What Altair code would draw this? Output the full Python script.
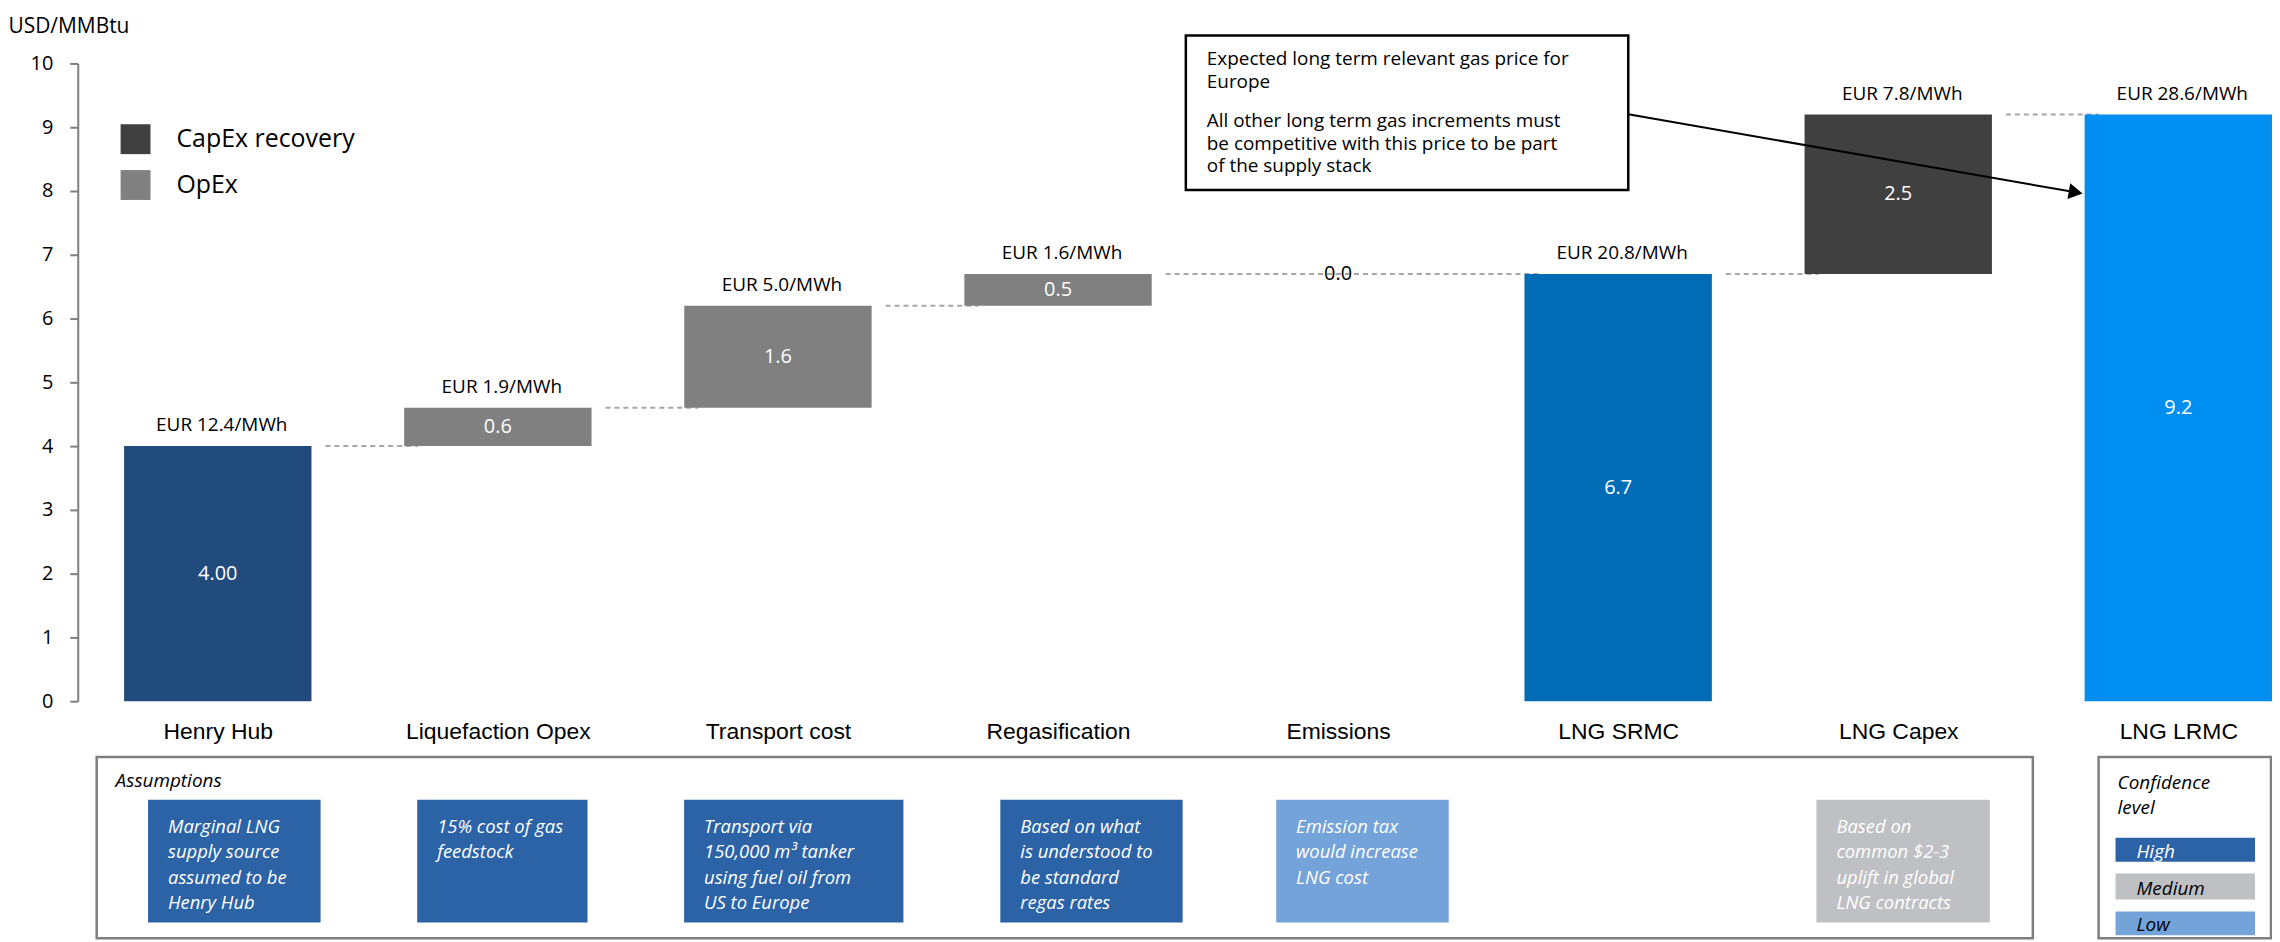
import json
import altair as alt
import pandas as pd

# ------------------------------------------------------------------ data
categories = ["Henry Hub", "Liquefaction Opex", "Transport cost", "Regasification",
              "Emissions", "LNG SRMC", "LNG Capex", "LNG LRMC"]
values = [4.00, 0.6, 1.6, 0.5, 0.0, 6.7, 2.5, 9.2]
bar_kind = ["total", "step", "step", "step", "step", "total", "step", "total"]
cost_type = ["Henry Hub", "OpEx", "OpEx", "OpEx", "OpEx", "LNG SRMC", "CapEx recovery", "LNG LRMC"]
value_labels = ["4.00", "0.6", "1.6", "0.5", "0.0", "6.7", "2.5", "9.2"]
eur_labels = ["EUR 12.4/MWh", "EUR 1.9/MWh", "EUR 5.0/MWh", "EUR 1.6/MWh", "",
              "EUR 20.8/MWh", "EUR 7.8/MWh", "EUR 28.6/MWh"]

type_domain = ["Henry Hub", "OpEx", "LNG SRMC", "CapEx recovery", "LNG LRMC"]
type_colors = ["#214b7c", "#808080", "#006cb5", "#404040", "#008ff0"]
legend_types = ["CapEx recovery", "OpEx"]

assumption_cat = ["Henry Hub", "Liquefaction Opex", "Transport cost", "Regasification",
                  "Emissions", "LNG Capex"]
assumption_text = [
    "Marginal LNG\nsupply source\nassumed to be\nHenry Hub",
    "15% cost of gas\nfeedstock",
    "Transport via\n150,000 m³ tanker\nusing fuel oil from\nUS to Europe",
    "Based on what\nis understood to\nbe standard\nregas rates",
    "Emission tax\nwould increase\nLNG cost",
    "Based on\ncommon $2-3\nuplift in global\nLNG contracts",
]
assumption_conf = ["High", "High", "High", "High", "Low", "Medium"]
conf_levels = ["High", "Medium", "Low"]
conf_colors = ["#2b63a6", "#bfc0c4", "#74a3da"]

y_title = "USD/MMBtu"
panel_title = "Assumptions"
conf_title = "Confidence\nlevel"
note_para1 = "Expected long term relevant gas price for\nEurope"
note_para2 = "All other long term gas increments must\nbe competitive with this price to be part\nof the supply stack"

# ------------------------------------------------------------------ layout (pixels / units)
SANS = "Open Sans"
ARIAL = "Liberation Sans"
PLOT_W, PLOT_H = 2202, 640
HALF = 0.3345
X_DOMAIN = [-0.5, 7.3345]
box_span = [(-0.249, 0.367), (-0.288, 0.320), (-0.335, 0.448),
            (-0.206, 0.445), (-0.221, 0.395), (-0.292, 0.327)]
PANEL_Y = (696, 878)
ASSUME_X = (19, 1962)
CONF_X = (2028, 2201)
INNER_Y = (739, 862)
conf_row_y = [(777, 801), (813, 839), (851, 875)]
conf_label_y = [791, 828, 865]
conf_label_color = ["white", "black", "black"]

# ------------------------------------------------------------------ tables
rows = []
running = 0.0
for i, (c, v, k, t, vl, el) in enumerate(zip(categories, values, bar_kind, cost_type,
                                             value_labels, eur_labels)):
    if k == "total":
        start, end = 0.0, v
        running = v
    else:
        start, end = running, running + v
        running = end
    rows.append(dict(idx=i, category=c, type=t, start=start, end=end,
                     mid=(start + end) / 2, value=v, value_label=vl, eur_label=el,
                     x0=i - HALF, x1=i + HALF))
bars_df = pd.DataFrame(rows)

nz = [r for r in rows if r["end"] != r["start"]]
conn_df = pd.DataFrame([dict(cx0=a["idx"] + HALF, cx1=b["idx"] - HALF, level=a["end"])
                        for a, b in zip(nz[:-1], nz[1:])])

cat_index = {c: i for i, c in enumerate(categories)}
assume_df = pd.DataFrame([
    dict(idx=cat_index[c], text=t, conf=cf,
         bx0=cat_index[c] + s[0], bx1=cat_index[c] + s[1])
    for c, t, cf, s in zip(assumption_cat, assumption_text, assumption_conf, box_span)
])
conf_df = pd.DataFrame(dict(level=conf_levels))

# ------------------------------------------------------------------ scales & axes
x_scale = alt.Scale(domain=X_DOMAIN, nice=False, zero=False)
y_scale = alt.Scale(domain=[0, 10], nice=False, zero=True)
label_expr = "[" + ",".join(json.dumps(c) for c in categories) + "][datum.value]"
x_axis = alt.Axis(values=list(range(len(categories))), labelExpr=label_expr, domain=False,
                  ticks=False, tickSize=0, grid=False, labelPadding=19, labelFont=ARIAL,
                  labelFontSize=23, labelColor="black", labelFlush=False,
                  labelOverlap=False, labelAngle=0, labelLimit=0, title=None)
y_axis = alt.Axis(values=list(range(11)), format="d", grid=False, domainColor="#7f7f7f",
                  domainWidth=2, tickColor="#7f7f7f", tickWidth=2, tickSize=8,
                  labelPadding=17, labelFont=SANS, labelFontSize=20, labelColor="black",
                  title=y_title, titleAngle=0, titleAlign="left", titleBaseline="middle",
                  titleX=-70, titleY=-37, titleFont=SANS, titleFontSize=21,
                  titleFontWeight="normal", titleColor="black", titleLimit=0)
conf_scale = alt.Scale(domain=conf_levels, range=conf_colors)

# ------------------------------------------------------------------ chart layers
connectors = alt.Chart(conn_df).mark_rule(
    strokeDash=[5, 4], color="#a6a6a6", strokeWidth=2, xOffset=14, x2Offset=14
).encode(
    x=alt.X("cx0:Q", scale=x_scale, axis=x_axis),
    x2="cx1:Q",
    y=alt.Y("level:Q", scale=y_scale, axis=y_axis),
)

bars = alt.Chart(bars_df).mark_rect().encode(
    x=alt.X("x0:Q", scale=x_scale, axis=x_axis),
    x2="x1:Q",
    y=alt.Y("start:Q", scale=y_scale, axis=y_axis),
    y2="end:Q",
    color=alt.Color("type:N", scale=alt.Scale(domain=type_domain, range=type_colors),
                    legend=alt.Legend(values=legend_types, title=None, orient="none",
                                      legendX=43, legendY=61, direction="vertical",
                                      symbolType="square", symbolSize=900,
                                      symbolStrokeWidth=0, symbolOpacity=1,
                                      labelFont=SANS, labelFontSize=25,
                                      labelColor="black", labelOffset=26, labelLimit=0,
                                      rowPadding=16, padding=0)),
)

eur_text = alt.Chart(bars_df).transform_filter("datum.eur_label != ''").mark_text(
    font=SANS, fontSize=19, color="black", baseline="middle", dy=-21, dx=4
).encode(
    x=alt.X("idx:Q", scale=x_scale, axis=x_axis),
    y=alt.Y("end:Q", scale=y_scale, axis=y_axis),
    text="eur_label:N",
)

value_text = alt.Chart(bars_df).mark_text(font=SANS, fontSize=20, baseline="middle").encode(
    x=alt.X("idx:Q", scale=x_scale, axis=x_axis),
    y=alt.Y("mid:Q", scale=y_scale, axis=y_axis),
    text="value_label:N",
    color=alt.condition("datum.value == 0", alt.value("black"), alt.value("white")),
)

one = pd.DataFrame(dict(p1=[note_para1], p2=[note_para2], a=[panel_title], c=[conf_title]))

note_box = alt.Chart(one).mark_rect(fill="white", stroke="black", strokeWidth=2.5).encode(
    x=alt.value(1112), x2=alt.value(1556), y=alt.value(-28), y2=alt.value(127))
note_t1 = alt.Chart(one).mark_text(font=SANS, fontSize=19, align="left", baseline="top",
                                   lineBreak="\n", lineHeight=23, color="black").encode(
    x=alt.value(1133), y=alt.value(-13), text="p1:N")
note_t2 = alt.Chart(one).mark_text(font=SANS, fontSize=19, align="left", baseline="top",
                                   lineBreak="\n", lineHeight=22.5, color="black").encode(
    x=alt.value(1133), y=alt.value(49), text="p2:N")
arrow_line = alt.Chart(one).mark_rule(color="black", strokeWidth=2).encode(
    x=alt.value(1556), y=alt.value(51), x2=alt.value(2005), y2=alt.value(129.3))
arrow_head = alt.Chart(one).mark_point(shape="triangle-right", filled=True, size=260,
                                       angle=9.9, color="black", opacity=1).encode(
    x=alt.value(2005), y=alt.value(129.3))

assume_panel = alt.Chart(one).mark_rect(fill="white", stroke="#7f7f7f", strokeWidth=2.5).encode(
    x=alt.value(ASSUME_X[0]), x2=alt.value(ASSUME_X[1]),
    y=alt.value(PANEL_Y[0]), y2=alt.value(PANEL_Y[1]))
assume_title = alt.Chart(one).mark_text(font=SANS, fontSize=19, fontStyle="italic",
                                        align="left", baseline="middle", color="black").encode(
    x=alt.value(38), y=alt.value(720), text="a:N")
assume_boxes = alt.Chart(assume_df).mark_rect().encode(
    x=alt.X("bx0:Q", scale=x_scale, axis=x_axis),
    x2="bx1:Q",
    y=alt.value(INNER_Y[0]), y2=alt.value(INNER_Y[1]),
    fill=alt.Fill("conf:N", scale=conf_scale, legend=None),
)
assume_text = alt.Chart(assume_df).mark_text(
    font=SANS, fontSize=18.5, fontStyle="italic", align="left", baseline="top",
    lineBreak="\n", lineHeight=25.5, color="white", dx=20
).encode(
    x=alt.X("bx0:Q", scale=x_scale, axis=x_axis),
    y=alt.value(757),
    text="text:N",
)

conf_panel = alt.Chart(one).mark_rect(fill="white", stroke="#7f7f7f", strokeWidth=2.5).encode(
    x=alt.value(CONF_X[0]), x2=alt.value(CONF_X[1]),
    y=alt.value(PANEL_Y[0]), y2=alt.value(PANEL_Y[1]))
conf_head = alt.Chart(one).mark_text(font=SANS, fontSize=19, fontStyle="italic",
                                     align="left", baseline="top", lineBreak="\n",
                                     lineHeight=25, color="black").encode(
    x=alt.value(2047), y=alt.value(713), text="c:N")

conf_layers = []
for lvl, (ya, yb), ly, lc in zip(conf_levels, conf_row_y, conf_label_y, conf_label_color):
    sub = alt.Chart(conf_df).transform_filter(alt.datum.level == lvl)
    conf_layers.append(sub.mark_rect().encode(
        x=alt.value(2045), x2=alt.value(2185), y=alt.value(ya), y2=alt.value(yb),
        fill=alt.Fill("level:N", scale=conf_scale, legend=None)))
    conf_layers.append(sub.mark_text(font=SANS, fontSize=19, fontStyle="italic",
                                     align="left", baseline="middle", color=lc).encode(
        x=alt.value(2066), y=alt.value(ly), text="level:N"))

chart = alt.layer(
    connectors, bars, eur_text, value_text,
    note_box, note_t1, note_t2, arrow_line, arrow_head,
    assume_panel, assume_title, assume_boxes, assume_text,
    conf_panel, conf_head, *conf_layers,
).properties(
    width=PLOT_W, height=PLOT_H,
    autosize=alt.AutoSizeParams(type="none"),
    padding={"left": 70, "top": 54, "right": 0, "bottom": 240},
    background="white",
).configure_view(stroke=None)

chart.save("out.html", embed_options={"renderer": "svg", "actions": False})
